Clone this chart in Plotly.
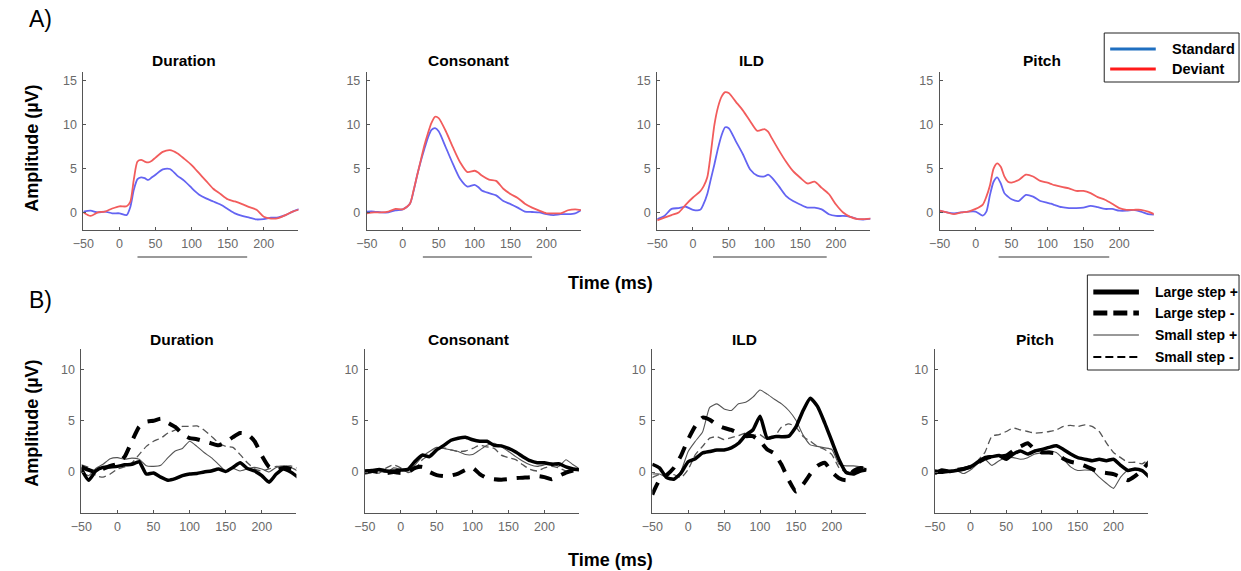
import plotly.graph_objects as go

W, H = 1241, 571
FONT = "Liberation Sans, Arial, sans-serif"

CONDITIONS = ["Duration", "Consonant", "ILD", "Pitch"]

# ---- Panel A: grand-average ERPs (µV) ----
TIME_A = [-50, -40, -30, -20, -10, 0, 10, 15, 20, 25, 30, 35, 40, 45, 50, 60, 70, 80,
          90, 100, 105, 110, 120, 130, 140, 150, 160, 170, 180, 190, 200, 210, 220,
          230, 240, 250]

dur_standard = [0.1, 0.2, 0.0, 0.1, -0.1, -0.1, -0.3, 0.6, 2.6, 3.8, 4.0, 3.9, 3.7, 4.0, 4.3,
                4.9, 4.95, 4.2, 3.6, 2.8, 2.4, 2.05, 1.6, 1.25, 0.9, 0.4, -0.1, -0.4, -0.6,
                -0.8, -0.75, -0.6, -0.55, -0.3, 0.1, 0.4]
dur_deviant = [0.0, -0.4, 0.0, 0.1, 0.45, 0.7, 0.7, 1.2, 3.8, 5.8, 6.0, 5.8, 5.7, 5.9, 6.25,
               6.9, 7.1, 6.75, 6.1, 5.4, 4.95, 4.5, 3.6, 2.7, 2.1, 1.5, 1.25, 0.95, 0.6,
               0.3, -0.5, -0.7, -0.65, -0.3, 0.1, 0.35]

con_standard = [0.1, 0.1, 0.0, 0.0, 0.25, 0.35, 1.0, 2.4, 4.2, 5.8, 7.2, 8.5, 9.4, 9.6, 9.25,
                7.4, 5.5, 3.8, 2.95, 3.15, 2.9, 2.5, 2.2, 1.95, 1.3, 0.95, 0.55, 0.1, 0.05,
                0.0, -0.2, -0.3, -0.2, -0.2, -0.1, 0.35]
con_deviant = [-0.1, 0.0, 0.0, 0.1, 0.4, 0.35, 1.0, 2.5, 4.2, 5.9, 7.6, 9.0, 10.2, 10.9, 10.75,
               9.25, 7.4, 5.7, 4.6, 4.75, 4.55, 4.2, 3.75, 3.6, 2.7, 2.1, 1.65, 1.0, 0.55,
               0.2, -0.1, -0.1, -0.1, 0.25, 0.35, 0.25]

ild_standard = [-0.75, -0.4, 0.4, 0.5, 0.65, 0.3, 0.3, 1.0, 2.1, 3.8, 5.5, 7.3, 8.8, 9.7, 9.6,
                8.1, 6.6, 4.9, 4.2, 4.1, 4.3, 4.0, 3.0, 1.9, 1.3, 0.9, 0.55, 0.55, 0.35,
                -0.2, -0.4, -0.4, -0.5, -0.75, -0.8, -0.7]
ild_deviant = [-0.9, -0.6, -0.3, 0.0, 0.9, 1.7, 2.4, 3.0, 4.0, 6.8, 10.0, 12.0, 13.2, 13.7, 13.6,
               12.6, 11.6, 10.4, 9.3, 9.5, 9.2, 8.5, 7.1, 5.8, 4.7, 3.95, 3.3, 3.5, 2.8,
               2.1, 0.9, 0.0, -0.5, -0.75, -0.75, -0.7]

pit_standard = [0.2, 0.0, -0.1, 0.0, 0.1, 0.1, -0.35, 0.1, 2.0, 3.5, 4.0, 3.3, 2.2, 1.8, 1.5,
                1.3, 2.0, 1.8, 1.3, 1.1, 1.0, 0.85, 0.6, 0.5, 0.5, 0.55, 0.75, 0.6, 0.4,
                0.4, 0.2, 0.2, 0.3, 0.1, -0.2, -0.25]
pit_deviant = [0.2, 0.0, -0.2, 0.0, 0.1, 0.4, 0.9, 1.8, 3.1, 5.0, 5.6, 5.2, 4.1, 3.5, 3.4,
               3.7, 4.3, 4.1, 3.6, 3.4, 3.25, 3.1, 2.9, 2.75, 2.45, 2.45, 2.2, 1.75, 1.45,
               1.0, 0.5, 0.3, 0.3, 0.3, 0.1, -0.25]

# analysis window (ms) marked under each panel of row A
WINDOW_START = [25, 28, 28, 32]
WINDOW_END = [177, 180, 187, 186]

# ---- Panel B: difference waves per step size (µV) ----
TIME_B = list(range(-50, 251, 10))

dur_large_pos = [0.3, -0.8, 0.1, 0.45, 0.5, 0.55, 0.7, 0.75, 1.0, -0.2, -0.1, -0.5, -0.8, -0.65,
                 -0.35, -0.2, -0.15, 0.0, 0.1, 0.3, 0.05, 0.45, 0.9, 0.35, 0.1, -0.35, -1.0,
                 -0.2, 0.3, 0.0, -0.5]
dur_large_neg = [0.5, 0.2, 0.0, 0.3, 0.6, 0.8, 1.5, 3.0, 4.4, 4.9, 5.0, 5.2, 4.8, 4.4, 3.7,
                 3.3, 3.2, 3.0, 2.8, 2.6, 2.9, 3.4, 3.8, 3.7, 3.0, 1.6, 0.5, 0.2, 0.4, 0.3, 0.0]
dur_small_pos = [0.1, -0.35, 0.35, 0.75, 1.3, 1.4, 1.25, 1.35, 1.25, 0.6, 0.55, 0.65, 1.4, 2.05,
                 2.3, 3.0, 2.5, 1.9, 1.4, 0.75, 0.1, 0.35, 0.1, 0.3, 0.45, 0.3, 0.0, 0.45,
                 0.6, 0.45, 0.1]
dur_small_neg = [0.7, 0.45, -0.35, -0.5, -0.2, 0.3, 0.5, 0.9, 1.7, 2.5, 3.0, 3.3, 3.8, 4.1,
                 4.45, 4.45, 4.5, 4.1, 3.5, 2.85, 2.5, 2.4, 1.7, 0.9, 0.3, 0.1, 0.3, 0.55,
                 0.55, 0.6, 0.35]

con_large_pos = [0.1, 0.15, 0.25, 0.1, 0.1, 0.2, 0.25, 1.05, 1.65, 1.5, 2.15, 2.6, 3.1, 3.3,
                 3.4, 3.15, 3.0, 3.0, 2.6, 2.55, 2.3, 1.95, 1.5, 1.1, 0.9, 0.9, 0.75, 0.8,
                 0.5, 0.3, 0.2]
con_large_neg = [0.0, 0.1, 0.0, -0.1, 0.0, -0.1, 0.0, 0.4, 0.5, 0.0, -0.3, -0.4, -0.35, -0.15,
                 0.2, 0.4, -0.2, -0.6, -0.7, -0.75, -0.7, -0.6, -0.55, -0.5, -0.4, -0.5, -0.7,
                 -0.4, -0.05, 0.15, 0.25]
con_small_pos = [-0.1, 0.25, 0.1, -0.05, 0.4, 0.25, 0.1, 0.7, 1.5, 2.0, 2.4, 2.3, 2.15, 2.0,
                 1.7, 1.7, 2.15, 2.6, 2.8, 2.45, 2.0, 1.5, 1.05, 0.7, 0.55, 0.7, 0.9, 0.55,
                 1.2, 0.7, 0.25]
con_small_neg = [-0.2, -0.05, -0.1, 0.4, 0.7, 0.4, -0.05, 0.25, 1.2, 1.65, 2.15, 2.35, 2.15,
                 2.0, 2.05, 2.3, 2.6, 2.45, 2.3, 1.65, 1.4, 1.2, 0.7, 0.25, 0.1, 0.4, 0.55,
                 0.4, 0.1, 0.15, 0.25]

ild_large_pos = [0.75, 0.4, -0.55, -0.7, -0.1, 1.0, 1.3, 1.85, 2.0, 2.15, 2.15, 2.35, 2.8, 3.6,
                 4.1, 5.45, 3.3, 3.45, 3.45, 3.5, 4.4, 6.0, 7.2, 6.4, 4.8, 3.0, 1.2, -0.05,
                 -0.2, 0.1, 0.25]
ild_large_neg = [-2.2, -0.8, -0.3, 0.4, 1.6, 3.2, 4.5, 5.3, 5.1, 4.6, 4.3, 4.1, 3.8, 3.5, 3.5,
                 3.0, 2.2, 1.8, 0.7, -0.8, -1.9, -1.2, -0.2, 0.6, 0.9, 0.0, -0.6, -0.8, 0.1,
                 0.4, 0.3]
ild_small_pos = [-0.2, -0.2, -0.55, -0.7, 0.1, 2.0, 3.0, 3.9, 6.3, 6.65, 6.15, 6.0, 6.65, 6.8,
                 7.3, 8.0, 7.6, 7.1, 6.65, 6.0, 5.05, 3.6, 2.65, 2.5, 2.35, 2.2, 0.75, 0.6,
                 0.6, 0.5, 0.25]
ild_small_neg = [-0.55, -0.25, -0.4, -0.25, -0.55, 0.25, 1.7, 2.5, 3.3, 3.45, 3.15, 3.35, 3.55,
                 3.8, 3.6, 3.65, 3.15, 3.45, 4.4, 4.7, 4.4, 3.45, 3.0, 2.5, 2.2, 1.7, 0.4,
                 -0.05, -0.05, 0.1, 0.25]

pit_large_pos = [-0.15, 0.2, 0.05, 0.15, 0.3, 0.5, 0.95, 1.4, 1.5, 1.6, 1.25, 1.75, 2.05, 1.75,
                 2.05, 2.2, 2.4, 2.55, 2.2, 1.75, 1.4, 1.25, 1.1, 1.25, 1.1, 1.25, 0.65, 0.15,
                 0.3, 0.15, -0.5]
pit_large_neg = [0.0, 0.0, 0.1, 0.2, 0.3, 0.5, 0.9, 1.3, 1.5, 1.5, 1.6, 2.1, 2.5, 2.8, 2.2,
                 1.9, 1.9, 1.8, 1.3, 1.0, 0.85, 0.6, 0.3, 0.0, -0.1, -0.2, -0.5, -0.8, -0.4,
                 0.2, 1.0]
pit_small_pos = [0.25, 0.15, 0.2, 0.15, -0.15, 0.2, 0.8, 1.25, 0.65, 1.1, 1.4, 1.4, 1.25, 1.4,
                 1.75, 1.9, 2.05, 1.9, 1.25, 0.5, 0.15, 0.2, 0.15, -0.5, -1.1, -1.6, -0.5,
                 0.15, 0.2, 0.0, -0.5]
pit_small_neg = [0.15, 0.0, 0.15, 0.2, 0.3, 0.5, 1.1, 1.9, 3.5, 3.65, 3.95, 4.3, 4.1, 3.95,
                 3.8, 3.85, 3.95, 4.1, 4.45, 4.55, 4.45, 4.6, 4.45, 3.95, 2.85, 1.9, 1.4,
                 0.95, 0.95, 0.8, 1.25]

STANDARD = [dur_standard, con_standard, ild_standard, pit_standard]
DEVIANT = [dur_deviant, con_deviant, ild_deviant, pit_deviant]
LARGE_POS = [dur_large_pos, con_large_pos, ild_large_pos, pit_large_pos]
LARGE_NEG = [dur_large_neg, con_large_neg, ild_large_neg, pit_large_neg]
SMALL_POS = [dur_small_pos, con_small_pos, ild_small_pos, pit_small_pos]
SMALL_NEG = [dur_small_neg, con_small_neg, ild_small_neg, pit_small_neg]

X_TICKS = [-50, 0, 50, 100, 150, 200]
Y_TICKS_A = [0, 5, 10, 15]
Y_TICKS_B = [0, 5, 10]

# ---- geometry (pixels) ----
A_X = [(73, 290), (359, 575), (652, 867), (937, 1153)]
A_Y = (72, 230)
B_X = [(71, 288), (357, 573), (647, 863), (932, 1147)]
B_Y = (349, 513)
A_TITLE_X = [175, 462, 747, 1040]
B_TITLE_X = [173, 462, 740, 1033]


def px(xp):
    return xp / W


def py(yp):
    return 1 - yp / H


AXIS_COLOR = "#555555"
TICK_COLOR = "#6a6a6a"

fig = go.Figure()
layout = dict(
    width=W, height=H, margin=dict(l=0, r=0, t=0, b=0),
    paper_bgcolor="white", plot_bgcolor="white", showlegend=False,
    font=dict(family=FONT, color="black"),
)


def axis_common():
    return dict(showline=True, linecolor=AXIS_COLOR, linewidth=1, ticks="inside",
                ticklen=3, tickwidth=1, tickcolor=AXIS_COLOR, showgrid=False,
                zeroline=False, fixedrange=True,
                tickfont=dict(family=FONT, size=12.5, color=TICK_COLOR))


shapes = []
annotations = []

for i in range(8):
    n = i + 1
    key = "" if n == 1 else str(n)
    top = i < 4
    k = i % 4
    xd = A_X[k] if top else B_X[k]
    yd = A_Y if top else B_Y
    xa = axis_common()
    xa.update(domain=[px(xd[0]), px(xd[1])], range=[-50, 248], tickvals=X_TICKS,
              anchor="y" + key, ticklabelstandoff=2)
    ya = axis_common()
    ya.update(domain=[py(yd[1]), py(yd[0])],
              range=[-2, 16] if top else [-4, 12],
              tickvals=Y_TICKS_A if top else Y_TICKS_B, anchor="x" + key,
              ticklabelstandoff=3)
    layout["xaxis" + key] = xa
    layout["yaxis" + key] = ya

    xr, yr = "x" + key, "y" + key
    if top:
        fig.add_trace(go.Scatter(x=TIME_A, y=STANDARD[k], mode="lines", xaxis=xr, yaxis=yr,
                                 line=dict(color="#6464f2", width=1.8, shape="spline",
                                           smoothing=0.7), name="Standard"))
        fig.add_trace(go.Scatter(x=TIME_A, y=DEVIANT[k], mode="lines", xaxis=xr, yaxis=yr,
                                 line=dict(color="#f25c5c", width=1.8, shape="spline",
                                           smoothing=0.7), name="Deviant"))
        shapes.append(dict(type="line", xref=xr, yref="paper",
                           x0=WINDOW_START[k], x1=WINDOW_END[k],
                           y0=py(257), y1=py(257),
                           line=dict(color="#9a9a9a", width=2)))
        annotations.append(dict(text="<b>%s</b>" % CONDITIONS[k], x=px(A_TITLE_X[k]),
                                y=py(61), xref="paper", yref="paper", showarrow=False,
                                xanchor="center", yanchor="middle",
                                font=dict(family=FONT, size=15.5, color="black")))
    else:
        fig.add_trace(go.Scatter(x=TIME_B, y=SMALL_POS[k], mode="lines", xaxis=xr, yaxis=yr,
                                 line=dict(color="#555555", width=1.1, shape="spline",
                                           smoothing=0.5), name="Small step +"))
        fig.add_trace(go.Scatter(x=TIME_B, y=SMALL_NEG[k], mode="lines", xaxis=xr, yaxis=yr,
                                 line=dict(color="#555555", width=1.3, shape="spline",
                                           smoothing=0.5, dash="7px,4px"),
                                 name="Small step -"))
        fig.add_trace(go.Scatter(x=TIME_B, y=LARGE_NEG[k], mode="lines", xaxis=xr, yaxis=yr,
                                 line=dict(color="black", width=4, shape="spline",
                                           smoothing=0.5, dash="13px,10px"),
                                 name="Large step -"))
        fig.add_trace(go.Scatter(x=TIME_B, y=LARGE_POS[k], mode="lines", xaxis=xr, yaxis=yr,
                                 line=dict(color="black", width=3.5, shape="spline",
                                           smoothing=0.5), name="Large step +"))
        annotations.append(dict(text="<b>%s</b>" % CONDITIONS[k], x=px(B_TITLE_X[k]),
                                y=py(339), xref="paper", yref="paper", showarrow=False,
                                xanchor="center", yanchor="middle",
                                font=dict(family=FONT, size=15.5, color="black")))

# row labels and axis titles
for label, yy in (("A)", 19), ("B)", 300)):
    annotations.append(dict(text=label, x=px(30), y=py(yy), xref="paper", yref="paper",
                            showarrow=False, xanchor="center", yanchor="middle",
                            font=dict(family=FONT, size=23, color="black")))
for yy in (148, 423):
    annotations.append(dict(text="<b>Amplitude (µV)</b>", x=px(21), y=py(yy), xref="paper",
                            yref="paper", showarrow=False, textangle=-90,
                            xanchor="center", yanchor="middle",
                            font=dict(family=FONT, size=18, color="black")))
for yy in (283, 560):
    annotations.append(dict(text="<b>Time (ms)</b>", x=px(605), y=py(yy), xref="paper",
                            yref="paper", showarrow=False, xanchor="center",
                            yanchor="middle", font=dict(family=FONT, size=18,
                                                        color="black")))

# legend for row A
shapes.append(dict(type="rect", xref="paper", yref="paper", x0=px(1103), x1=px(1239),
                   y0=py(82), y1=py(33), line=dict(color="#222222", width=1),
                   fillcolor="white"))
for name, color, yy in (("Standard", "#1f6fc0", 49), ("Deviant", "#ff1a1a", 69)):
    shapes.append(dict(type="line", xref="paper", yref="paper", x0=px(1109), x1=px(1155),
                       y0=py(yy), y1=py(yy), line=dict(color=color, width=3)))
    annotations.append(dict(text="<b>%s</b>" % name, x=px(1169), y=py(yy), xref="paper",
                            yref="paper", showarrow=False, xanchor="left",
                            yanchor="middle", font=dict(family=FONT, size=14.5,
                                                        color="black")))

# legend for row B
shapes.append(dict(type="rect", xref="paper", yref="paper", x0=px(1086), x1=px(1239),
                   y0=py(370), y1=py(275), line=dict(color="#222222", width=1),
                   fillcolor="white"))
legend_b = [("Large step +", 292, 5, "solid", "black"),
            ("Large step -", 313, 5, "14px,6px", "black"),
            ("Small step +", 335, 1, "solid", "#333333"),
            ("Small step -", 357, 2, "8px,4px", "black")]
for name, yy, lw, dash, color in legend_b:
    shapes.append(dict(type="line", xref="paper", yref="paper", x0=px(1092), x1=px(1138),
                       y0=py(yy), y1=py(yy), line=dict(color=color, width=lw, dash=dash)))
    annotations.append(dict(text="<b>%s</b>" % name, x=px(1152), y=py(yy), xref="paper",
                            yref="paper", showarrow=False, xanchor="left",
                            yanchor="middle", font=dict(family=FONT, size=14,
                                                        color="black")))

layout["shapes"] = shapes
layout["annotations"] = annotations
fig.update_layout(**layout)
fig.write_html("out.html", config={"displayModeBar": False})
